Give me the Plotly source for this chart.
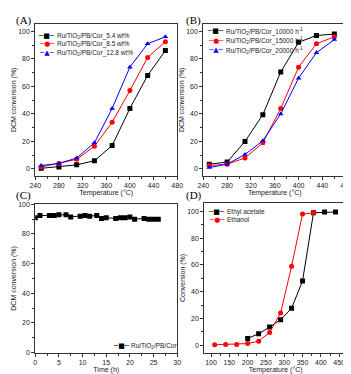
import plotly.graph_objects as go

# ── Data ───────────────────────────────────────────────────────────────────────
temp_a = [250, 280, 310, 340, 370, 400, 430, 460]
conv_54 = [0.5, 1.5, 3, 6, 17, 44, 68, 86]
conv_85 = [1.5, 4, 7, 16.5, 34, 57, 81, 92.5]
conv_128 = [2.5, 4, 8, 19, 44, 74, 91, 96]

temp_b = [250, 280, 310, 340, 370, 400, 430, 460]
conv_10000 = [3.5, 5, 20, 39.5, 70.5, 92, 97, 98]
conv_15000 = [2.5, 3.5, 8, 19, 44, 74, 91, 96]
conv_20000 = [1, 3.5, 10.5, 20.5, 40, 66, 84.5, 94]

time_c = [0, 1, 3, 4, 5, 6.5, 7.5, 9.5, 10.5, 11.5, 13, 14, 15, 17, 18, 19,
          20, 21, 23, 24, 25, 26]
conv_time = [91, 92.5, 92.5, 92.5, 93, 93, 91.5, 92, 92.5, 92, 92.5, 90.5, 91,
             90.5, 91, 91, 91.5, 90, 90.5, 90, 90, 90]

temp_ea = [200, 230, 260, 290, 320, 350, 380, 410, 440]
conv_ea = [5, 8.5, 13.5, 19, 27.5, 48, 99, 99.5, 99.5]
temp_et = [110, 140, 170, 200, 230, 260, 290, 320, 350, 380]
conv_et = [0.3, 0.5, 0.5, 1.2, 3, 9.5, 24, 59, 98, 99]

CAT = 'Ru/TiO<sub>2</sub>/PB/Cor'

# ── Styles ─────────────────────────────────────────────────────────────────────
FONT = 'Liberation Sans'
AX_COLOR = '#333333'
TXT = '#222222'
W, H = 351, 374
GLYPH = {'square': '■', 'circle': '●', 'triangle-up': '▲'}


def px_x(a, b):
    return [a / W, b / W]


def px_y(top, bottom):
    return [1 - bottom / H, 1 - top / H]


def series(x, y, color, symbol, xa, ya):
    return go.Scatter(
        x=x, y=y, mode='lines+markers', showlegend=False,
        line=dict(color=color, width=1),
        marker=dict(color=color, symbol=symbol, size=5),
        xaxis=xa, yaxis=ya
    )


def legend_entry(x, y, color, symbol, label):
    """Compact Origin-style legend entry drawn from annotations (pixel coords)."""
    fig.add_annotation(text='─' + GLYPH[symbol] + '─', x=(x + 7) / W, y=1 - y / H,
                       xref='paper', yref='paper', xanchor='center', yanchor='middle',
                       showarrow=False,
                       font=dict(size=7, family='DejaVu Sans', color=color))
    fig.add_annotation(text=label, x=(x + 15) / W, y=1 - y / H,
                       xref='paper', yref='paper', xanchor='left', yanchor='middle',
                       showarrow=False, font=dict(size=6.5, family=FONT, color=TXT))


fig = go.Figure()
fig.add_trace(series(temp_a, conv_54, 'black', 'square', 'x', 'y'))
fig.add_trace(series(temp_a, conv_85, 'red', 'circle', 'x', 'y'))
fig.add_trace(series(temp_a, conv_128, 'blue', 'triangle-up', 'x', 'y'))

fig.add_trace(series(temp_b, conv_10000, 'black', 'square', 'x2', 'y2'))
fig.add_trace(series(temp_b, conv_15000, 'red', 'circle', 'x2', 'y2'))
fig.add_trace(series(temp_b, conv_20000, 'blue', 'triangle-up', 'x2', 'y2'))

fig.add_trace(series(time_c, conv_time, 'black', 'square', 'x3', 'y3'))

fig.add_trace(series(temp_ea, conv_ea, 'black', 'square', 'x4', 'y4'))
fig.add_trace(series(temp_et, conv_et, 'red', 'circle', 'x4', 'y4'))

# legends
legend_entry(27, 24, 'black', 'square', CAT + '_5.4 wt%')
legend_entry(27, 33, 'red', 'circle', CAT + '_8.5 wt%')
legend_entry(27, 42, 'blue', 'triangle-up', CAT + '_12.8 wt%')

legend_entry(202, 19.5, 'black', 'square', CAT + '_10000 h<sup>-1</sup>')
legend_entry(202, 29.3, 'red', 'circle', CAT + '_15000 h<sup>-1</sup>')
legend_entry(202, 39, 'blue', 'triangle-up', CAT + '_20000 h<sup>-1</sup>')

legend_entry(104, 340, 'black', 'square', CAT)

legend_entry(203, 203.5, 'black', 'square', 'Ethyl acetate')
legend_entry(203, 211.5, 'red', 'circle', 'Ethanol')


def axis(domain, rng, dtick, minor, title, anchor):
    return dict(
        domain=domain, range=rng, dtick=dtick, tick0=0, anchor=anchor,
        showline=True, linecolor=AX_COLOR, linewidth=1, mirror=True,
        ticks='outside', ticklen=3, tickwidth=1, tickcolor=AX_COLOR,
        minor=dict(dtick=minor, ticks='outside', ticklen=2, tickcolor=AX_COLOR),
        showgrid=False, zeroline=False,
        tickfont=dict(size=7, color=TXT),
        title=dict(text=title, font=dict(size=7, color=TXT), standoff=0),
    )


temp_title = 'Temperature (°C)'
fig.update_layout(
    xaxis=axis(px_x(22, 169), [240, 480], 40, 20, temp_title, 'y'),
    yaxis=axis(px_y(12, 167), [-5, 105.5], 20, 10, 'DCM conversion (%)', 'x'),
    xaxis2=axis(px_x(196, 344), [240, 480], 40, 20, temp_title, 'y2'),
    yaxis2=axis(px_y(12, 167), [-5, 105.5], 20, 10, 'DCM conversion (%)', 'x2'),
    xaxis3=axis(px_x(22, 169), [0, 30], 5, 2.5, 'Time (h)', 'y3'),
    yaxis3=axis(px_y(196, 347), [0, 100], 20, 10, 'DCM conversion (%)', 'x3'),
    xaxis4=axis(px_x(197, 345), [81.5, 472], 50, 25, temp_title, 'y4'),
    yaxis4=axis(px_y(195, 347), [-5.5, 106], 20, 10, 'Conversion (%)', 'x4'),
)

for txt, x, y in [('(A)', 0, 0), ('(B)', 176, 0), ('(C)', 0, 178), ('(D)', 176, 178)]:
    fig.add_annotation(text=txt, x=x / W, y=1 - y / H, xref='paper', yref='paper',
                       xanchor='left', yanchor='top', showarrow=False,
                       font=dict(size=11, family='Liberation Serif', color='black'))

fig.update_layout(
    width=W, height=H,
    margin=dict(l=0, r=0, t=0, b=0),
    paper_bgcolor='white', plot_bgcolor='white',
    font=dict(family=FONT, color=TXT),
)

fig.write_html("out.html")
